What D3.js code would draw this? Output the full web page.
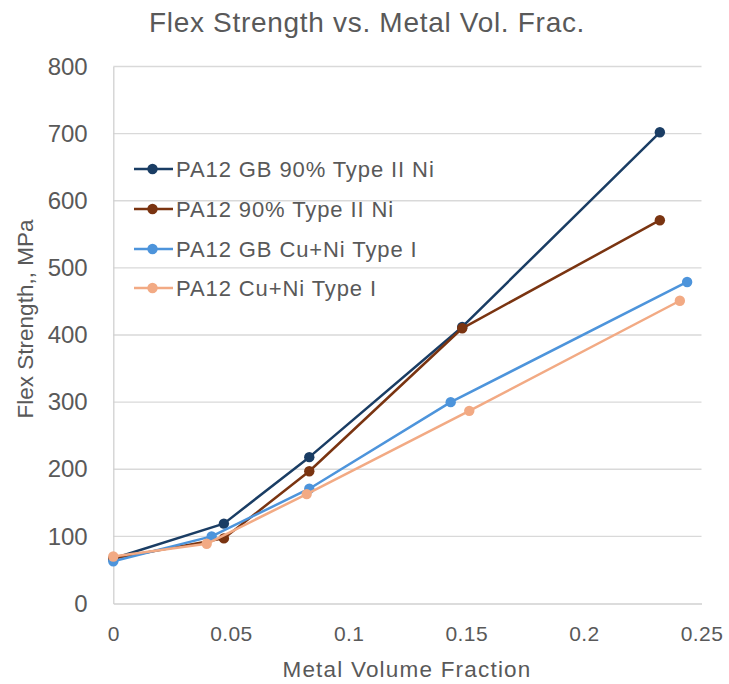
<!DOCTYPE html>
<html>
<head>
<meta charset="utf-8">
<script src="https://cdn.jsdelivr.net/npm/d3@7"></script>
<style>
  html, body { margin: 0; padding: 0; background: #fff; }
  svg { display: block; }
</style>
</head>
<body>
<svg id="chart" width="729" height="684"></svg>
<script>
// Series names and values (x = metal volume fraction, y = flex strength in MPa)
const seriesNames = [
  "PA12 GB 90% Type II Ni",
  "PA12 90% Type II Ni",
  "PA12 GB Cu+Ni Type I",
  "PA12 Cu+Ni Type I"
];
const gbTypeIIx = [0, 0.047, 0.0833, 0.1483, 0.2323];
const gbTypeIIy = [67, 119, 218, 412, 702];
const typeIIx   = [0, 0.047, 0.0833, 0.1483, 0.2323];
const typeIIy   = [67, 97, 197, 410, 571];
const gbCuNix   = [0, 0.0418, 0.0833, 0.1434, 0.2439];
const gbCuNiy   = [63, 100, 171, 300, 479];
const cuNix     = [0, 0.0397, 0.0822, 0.1513, 0.2408];
const cuNiy     = [70, 89, 163, 287, 451];
const xTicks = [0, 0.05, 0.1, 0.15, 0.2, 0.25];
const yTicks = [0, 100, 200, 300, 400, 500, 600, 700, 800];
const colors = ["#1a3d64", "#7a3411", "#4d94db", "#f2aa84"];

const seriesX = [gbTypeIIx, typeIIx, gbCuNix, cuNix];
const seriesY = [gbTypeIIy, typeIIy, gbCuNiy, cuNiy];
const series = seriesNames.map((name, i) => ({
  name, color: colors[i],
  points: seriesX[i].map((x, j) => ({ x, y: seriesY[i][j] }))
}));

const svg = d3.select("#chart");
const plotLeft = 113.3, plotRight = 701.5, plotTop = 66.5, plotBottom = 603.5;
const x = d3.scaleLinear().domain([0, 0.25]).range([plotLeft, plotRight]);
const y = d3.scaleLinear().domain([0, 800]).range([plotBottom, plotTop]);
const textColor = "#595959";
const font = "'Liberation Sans', Arial, sans-serif";

// Horizontal gridlines
svg.append("g").selectAll("line").data(yTicks.filter(t => t > 0)).join("line")
  .attr("x1", plotLeft).attr("x2", plotRight)
  .attr("y1", d => y(d)).attr("y2", d => y(d))
  .attr("stroke", "#d9d9d9").attr("stroke-width", 1.3);

// Axes
const yAxis = svg.append("g").attr("transform", `translate(${plotLeft},0)`)
  .call(d3.axisLeft(y).tickValues(yTicks).tickSize(0).tickPadding(25.6).tickFormat(d3.format("d")));
const xAxis = svg.append("g").attr("transform", `translate(0,${plotBottom})`)
  .call(d3.axisBottom(x).tickValues(xTicks).tickSize(0).tickPadding(23).tickFormat(d => d === 0 ? "0" : String(d)));
[yAxis, xAxis].forEach(a => {
  a.select(".domain").attr("stroke", "#d0d0d0").attr("stroke-width", 1.3);
  a.selectAll("text").attr("fill", textColor).attr("font-family", font);
});
yAxis.selectAll("text").attr("font-size", 24);
xAxis.selectAll("text").attr("font-size", 21).attr("letter-spacing", 0.4);

// Series lines and markers
const line = d3.line().x(d => x(d.x)).y(d => y(d.y));
series.forEach(s => {
  const g = svg.append("g");
  g.append("path").datum(s.points).attr("d", line)
    .attr("fill", "none").attr("stroke", s.color).attr("stroke-width", 2.5)
    .attr("stroke-linejoin", "round");
  g.selectAll("circle").data(s.points).join("circle")
    .attr("cx", d => x(d.x)).attr("cy", d => y(d.y)).attr("r", 5.2)
    .attr("fill", s.color);
});

// Legend
const legend = svg.append("g");
const legendRows = [169, 209, 249, 288];
series.forEach((s, i) => {
  const cy = legendRows[i];
  legend.append("line").attr("x1", 134).attr("x2", 173).attr("y1", cy).attr("y2", cy)
    .attr("stroke", s.color).attr("stroke-width", 2.5);
  legend.append("circle").attr("cx", 152.5).attr("cy", cy).attr("r", 5.2).attr("fill", s.color);
  legend.append("text").attr("x", 176).attr("y", cy).attr("dy", "0.36em")
    .attr("fill", textColor).attr("font-family", font).attr("font-size", 22)
    .attr("letter-spacing", 0.9)
    .text(s.name);
});

// Title and axis titles
svg.append("text").attr("x", 367).attr("y", 31.5).attr("text-anchor", "middle")
  .attr("fill", textColor).attr("font-family", font)
  .attr("font-size", 28).attr("letter-spacing", 0.7)
  .text("Flex Strength vs. Metal Vol. Frac.");
svg.append("text").attr("x", 407).attr("y", 677).attr("text-anchor", "middle")
  .attr("fill", textColor).attr("font-family", font)
  .attr("font-size", 22.5).attr("letter-spacing", 1.2)
  .text("Metal Volume Fraction");
svg.append("text").attr("transform", "translate(32.5,319) rotate(-90)").attr("text-anchor", "middle")
  .attr("fill", textColor).attr("font-family", font)
  .attr("font-size", 22.5).text("Flex Strength,, MPa");
</script>
</body>
</html>
